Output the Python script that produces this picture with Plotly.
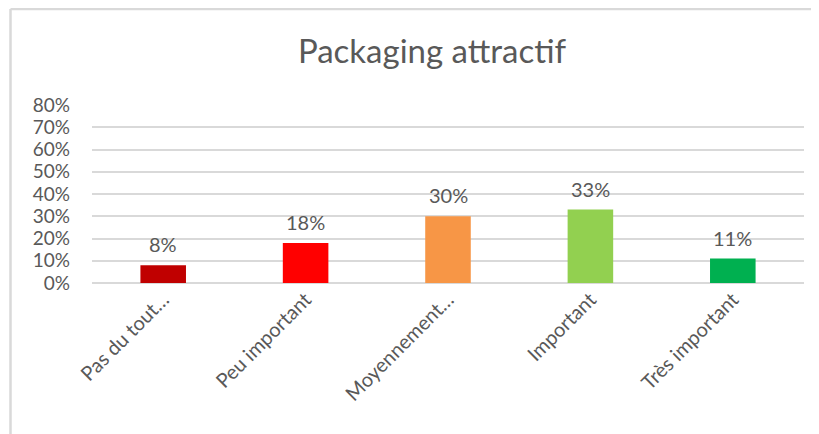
import plotly.graph_objects as go

categories = ["Pas du tout…", "Peu important", "Moyennement…", "Important", "Très important"]
values = [0.08, 0.18, 0.30, 0.33, 0.11]
labels = ["8%", "18%", "30%", "33%", "11%"]
colors = ["#C00000", "#FF0000", "#F79646", "#92D050", "#00B050"]
y_ticks = [0, 0.1, 0.2, 0.3, 0.4, 0.5, 0.6, 0.7, 0.8]
y_tick_text = ["0%", "10%", "20%", "30%", "40%", "50%", "60%", "70%", "80%"]

FONT = "Lato, Open Sans, sans-serif"
GRAY = "#595959"

# page body has an 8px margin, so the figure is sized to fit the window
W, H = 811, 426
L, R, T, B = 84, 15, 97, 151
PW, PH = W - L - R, H - T - B

fig = go.Figure()
fig.add_trace(go.Bar(x=categories, y=values, marker=dict(color=colors, line=dict(width=0)),
                     hoverinfo="skip"))

for c, v, t in zip(categories, values, labels):
    fig.add_annotation(x=c, y=v, text=t, showarrow=False, yanchor="bottom", yshift=7,
                       font=dict(family=FONT, size=20, color=GRAY))

fig.update_layout(
    width=W, height=H,
    margin=dict(l=L, r=R, t=T, b=B, autoexpand=False),
    paper_bgcolor="white", plot_bgcolor="white",
    bargap=0.68,
    showlegend=False,
    title=dict(text="Packaging attractif", x=424 / W, xanchor="center",
               y=1 - 43 / H, yanchor="middle",
               font=dict(family=FONT, size=33, color=GRAY)),
    xaxis=dict(tickangle=-45, tickfont=dict(family=FONT, size=20, color=GRAY),
               showgrid=False, showline=False, ticks="", automargin=False),
    yaxis=dict(range=[0, 0.8], tickvals=y_ticks, ticktext=y_tick_text,
               tickfont=dict(family=FONT, size=19, color=GRAY),
               showgrid=True, gridcolor="#D9D9D9", gridwidth=1.5,
               zeroline=True, zerolinecolor="#D9D9D9", zerolinewidth=1.5,
               showline=False, ticks="", ticklabelstandoff=21, automargin=False),
    shapes=[
        dict(type="line", xref="paper", yref="paper",
             x0=(2.5 - L) / PW, x1=(2.5 - L) / PW, y0=(1 - H + T) / PH - 1, y1=(H - B - 1) / PH,
             line=dict(color="#D9D9D9", width=2.5), layer="below"),
        dict(type="line", xref="paper", yref="paper",
             x0=(2.5 - L) / PW, x1=(W + 10 - L) / PW, y0=(H - B - 1) / PH, y1=(H - B - 1) / PH,
             line=dict(color="#D9D9D9", width=2.5), layer="below"),
    ],
)

fig.write_html("out.html")
